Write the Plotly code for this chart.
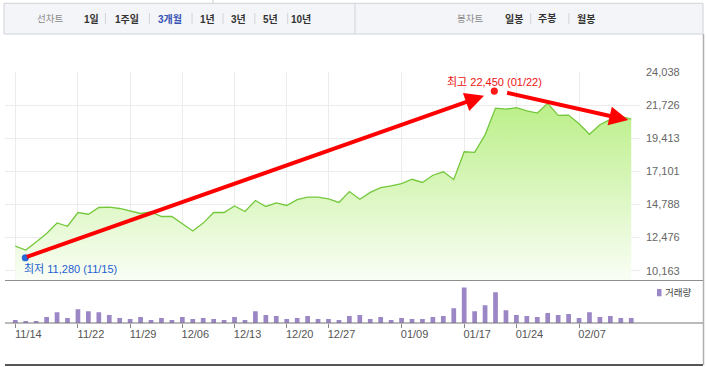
import plotly.graph_objects as go

# ---------------- data ----------------
dates = ["11/14", "11/15", "11/16", "11/17", "11/18", "11/21", "11/22",
         "11/23", "11/24", "11/25", "11/28", "11/29",
         "11/30", "12/01", "12/02", "12/05", "12/06",
         "12/07", "12/08", "12/09", "12/12", "12/13",
         "12/14", "12/15", "12/16", "12/19", "12/20",
         "12/21", "12/22", "12/23", "12/27",
         "12/28", "12/29", "01/03", "01/04", "01/05", "01/06", "01/09",
         "01/10", "01/11", "01/12", "01/13", "01/16", "01/17",
         "01/18", "01/19", "01/20", "01/23", "01/24",
         "01/25", "02/01", "02/02", "02/03", "02/06", "02/07",
         "02/08", "02/09", "02/10", "02/13", "02/14"]

close = [11890, 11610, 12170, 12760, 13500, 13270, 14230, 14110, 14580, 14600,
         14510, 14340, 14160, 14270, 13950, 13950, 13440, 12940, 13490, 14230,
         14230, 14690, 14300, 15070, 14650, 14900, 14720, 15130, 15300, 15300,
         15180, 14930, 15690, 15160, 15630, 15970, 16090, 16250, 16550, 16330,
         16830, 17070, 16540, 18470, 18430, 19650, 21520, 21450, 21550, 21330,
         21170, 21850, 21010, 21030, 20430, 19690, 20360, 20730, 20940, 20750]

volume = [120, 80, 80, 240, 440, 200, 560, 480, 440, 320,
          200, 160, 240, 120, 200, 120, 240, 160, 200, 160,
          120, 240, 120, 480, 320, 280, 160, 200, 280, 160,
          160, 120, 280, 320, 160, 240, 120, 200, 160, 160,
          240, 280, 600, 1440, 480, 720, 1240, 520, 320, 280,
          240, 400, 320, 360, 200, 440, 240, 280, 200, 200]

x_tick_dates = ["11/14", "11/22", "11/29", "12/06", "12/13", "12/20",
                "12/27", "01/09", "01/17", "01/24", "02/07"]
y_tick_vals = [10163, 12476, 14788, 17101, 19413, 21726, 24038]
y_tick_text = ["10,163", "12,476", "14,788", "17,101", "19,413", "21,726", "24,038"]

low_date, low_value = "11/15", 11280
high_date, high_value = "01/20", 22450
low_label = "최저 11,280 (11/15)"
high_label = "최고 22,450 (01/22)"

left_menu = ["선차트", "1일", "1주일", "3개월", "1년", "3년", "5년", "10년"]
right_menu = ["봉차트", "일봉", "주봉", "월봉"]

# ---------------- geometry helpers (layout only) ----------------
W, H = 706, 367
ML, MR, MT, MB = 5, 66, 72, 44
PW, PH = W - ML - MR, H - MT - MB


def xp(p):
    return (p - ML) / PW


def yp(p):
    return (H - MB - p) / PH


split = yp(280.5)
y_min, y_max = 9483, 24038
x_lo, x_hi = -0.987, 59.84

FONT = "Liberation Sans, Noto Sans CJK KR, sans-serif"
VOL_COLOR = "#9b86c6"

fig = go.Figure()
fig.add_trace(go.Scatter(
    x=dates, y=close, mode="lines",
    line=dict(color="#74c83c", width=1.3),
    fill="tozeroy",
    fillgradient=dict(type="vertical",
                      colorscale=[[0, "#fafef6"], [1, "#bbef88"]],
                      start=y_min, stop=max(close)),
    xaxis="x", yaxis="y", hoverinfo="skip", showlegend=False))
fig.add_trace(go.Bar(
    x=dates, y=volume, marker=dict(color=VOL_COLOR, line=dict(width=0)),
    width=0.45, xaxis="x2", yaxis="y2", hoverinfo="skip", showlegend=False))

shapes = []
ann = []

# top menu bar
shapes.append(dict(type="rect", xref="paper", yref="paper",
                   x0=xp(4), x1=xp(703), y0=yp(34), y1=yp(3.3),
                   fillcolor="#f4f5f8", line=dict(color="#cfd2d8", width=1), layer="below"))
shapes.append(dict(type="line", xref="paper", yref="paper",
                   x0=xp(355), x1=xp(355), y0=yp(34), y1=yp(3.3),
                   line=dict(color="#cfd2d8", width=1)))
shapes.append(dict(type="line", xref="paper", yref="paper",
                   x0=xp(213), x1=xp(213), y0=yp(3.3), y1=yp(0),
                   line=dict(color="#cccccc", width=1)))
left_x = [50, 91, 127, 170, 207, 238.5, 270, 301]
for i, (t, cx) in enumerate(zip(left_menu, left_x)):
    if i == 0:
        txt, col, size = t, "#8a8a8a", 9.5
    elif t == "3개월":
        txt, col, size = "<b>" + t + "</b>", "#3553b5", 10
    else:
        txt, col, size = "<b>" + t + "</b>", "#333333", 10
    ann.append(dict(xref="paper", yref="paper", x=xp(cx), y=yp(19), text=txt,
                    showarrow=False, xanchor="center", yanchor="middle",
                    font=dict(family=FONT, size=size, color=col)))
for sx in [105.4, 149.4, 192, 223, 254.8, 287.7, 530.7, 568.9]:
    shapes.append(dict(type="line", xref="paper", yref="paper",
                       x0=xp(sx), x1=xp(sx), y0=yp(24), y1=yp(13),
                       line=dict(color="#d2d4d8", width=1)))
right_x = [470, 514, 546.5, 586]
for i, (t, cx) in enumerate(zip(right_menu, right_x)):
    if i == 0:
        txt, col, size = t, "#8a8a8a", 9.5
    else:
        txt, col, size = "<b>" + t + "</b>", "#333333", 10
    ann.append(dict(xref="paper", yref="paper", x=xp(cx), y=yp(19), text=txt,
                    showarrow=False, xanchor="center", yanchor="middle",
                    font=dict(family=FONT, size=size, color=col)))

# frame lines
shapes.append(dict(type="line", xref="paper", yref="paper", x0=xp(5), x1=xp(703),
                   y0=yp(280.5), y1=yp(280.5), line=dict(color="#8f8f8f", width=1)))
shapes.append(dict(type="line", xref="paper", yref="paper", x0=xp(5), x1=xp(703),
                   y0=yp(323), y1=yp(323), line=dict(color="#777777", width=1)))
shapes.append(dict(type="line", xref="paper", yref="paper", x0=xp(5), x1=xp(703),
                   y0=yp(365), y1=yp(365), line=dict(color="#555555", width=2)))
shapes.append(dict(type="line", xref="paper", yref="paper", x0=xp(703.5), x1=xp(703.5),
                   y0=yp(365), y1=yp(34), line=dict(color="#b0b0b0", width=1.5)))

# legend
shapes.append(dict(type="rect", xref="paper", yref="paper", x0=xp(657), x1=xp(661.5),
                   y0=yp(296.3), y1=yp(289), fillcolor=VOL_COLOR, line=dict(width=0)))
ann.append(dict(xref="paper", yref="paper", x=xp(663), y=yp(292.7), text="거래량",
                showarrow=False, xanchor="left", yanchor="middle",
                font=dict(family=FONT, size=9.5, color="#444444")))

# low / high markers and labels
li = dates.index(low_date)
hi = dates.index(high_date)
r = 3.6
for idx, val, dx, dy, col in [(li, low_value, -0.4, -3.0, "#2a6ad6"),
                              (hi, high_value, -1.2, 3.7, "#ff1a1a")]:
    shapes.append(dict(type="circle", xref="x", yref="y",
                       xsizemode="pixel", ysizemode="pixel",
                       xanchor=idx, yanchor=val,
                       x0=dx - r, x1=dx + r, y0=dy - r, y1=dy + r,
                       fillcolor=col, line=dict(width=0)))
ann.append(dict(xref="x", yref="y", x=li, y=low_value, text=low_label,
                showarrow=False, xanchor="left", yanchor="middle",
                xshift=-4, yshift=-14,
                font=dict(family=FONT, size=11, color="#1d5fd1")))
ann.append(dict(xref="x", yref="y", x=hi, y=high_value, text=high_label,
                showarrow=False, xanchor="center", yanchor="middle",
                xshift=-0.8, yshift=13,
                font=dict(family=FONT, size=11, color="#ee1111")))

# red arrows
ann.append(dict(xref="x", yref="y", x=hi, y=high_value, text="",
                showarrow=True, arrowhead=2, arrowsize=0.95, arrowwidth=4,
                arrowcolor="#ff0000", axref="pixel", ayref="pixel",
                ax=-458.7, ay=161.6, xshift=-11.5, yshift=-1, standoff=0))
ann.append(dict(xref="x", yref="y", x=len(dates) - 1, y=close[-1], text="",
                showarrow=True, arrowhead=2, arrowsize=0.95, arrowwidth=4,
                arrowcolor="#ff0000", axref="pixel", ayref="pixel",
                ax=-122.6, ay=-27.7, xshift=-3, yshift=-1, standoff=0))

fig.update_layout(
    width=W, height=H,
    margin=dict(l=ML, r=MR, t=MT, b=MB, pad=0),
    paper_bgcolor="white", plot_bgcolor="white",
    showlegend=False,
    bargap=0.5,
    xaxis=dict(domain=[0, 1], anchor="y", type="category",
               categoryorder="array", categoryarray=dates,
               range=[x_lo, x_hi], tickvals=x_tick_dates,
               showticklabels=False, ticks="",
               showgrid=True, gridcolor="#ececec", gridwidth=1,
               zeroline=False, showline=False, fixedrange=True),
    xaxis2=dict(domain=[0, 1], anchor="y2", type="category",
                categoryorder="array", categoryarray=dates,
                range=[x_lo, x_hi], tickvals=x_tick_dates,
                showticklabels=True, ticks="outside", ticklen=4,
                tickcolor="#888888", tickwidth=1,
                tickfont=dict(family=FONT, size=11, color="#555555"),
                ticklabelshift=13, ticklabelstandoff=-3,
                showgrid=False, zeroline=False, showline=False),
    yaxis=dict(domain=[split, 1], anchor="x", range=[y_min, y_max],
               side="right", tickvals=y_tick_vals, ticktext=y_tick_text,
               ticks="", ticklabelstandoff=5,
               tickfont=dict(family=FONT, size=11, color="#666666"),
               showgrid=True, gridcolor="#ececec", gridwidth=1,
               zeroline=False, showline=False),
    yaxis2=dict(domain=[0, split], anchor="x2", range=[0, 1720],
                showticklabels=False, showgrid=False, zeroline=False,
                showline=False, ticks=""),
    shapes=shapes,
    annotations=ann,
)

fig.write_html("out.html",
               config={"displayModeBar": False, "staticPlot": True},
               post_script="document.body.style.margin='0';document.body.style.overflow='hidden';")
